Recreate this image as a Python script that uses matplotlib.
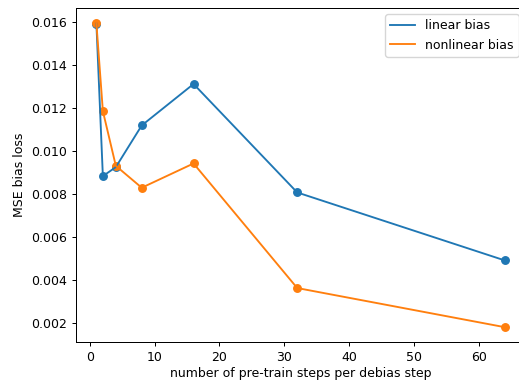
import matplotlib
matplotlib.use('Agg')
import matplotlib.pyplot as plt

## Data
steps = [1, 2, 4, 8, 16, 32, 64]  # pre-train steps per debias step
linear_bias = [0.01592, 0.00882, 0.00924, 0.01118, 0.01311, 0.00806, 0.00490]
nonlinear_bias = [0.01594, 0.01185, 0.00930, 0.00828, 0.00941, 0.00361, 0.00179]

## Original looks like a ~90 dpi render, so scale everything by 0.9
k = 0.9
plt.rcParams.update({
    'font.size': 10 * k,
    'lines.linewidth': 1.5 * k,
    'axes.linewidth': 0.8 * k,
    'xtick.major.size': 3.5 * k,
    'ytick.major.size': 3.5 * k,
    'xtick.major.width': 0.8 * k,
    'ytick.major.width': 0.8 * k,
    'xtick.major.pad': 3.5 * k,
    'ytick.major.pad': 3.5 * k,
})

fig = plt.figure(figsize=(5.19, 3.81), dpi=100)
ax = fig.add_axes([0.1464, 0.1015, 0.865, 0.8775])

## Lines (labelled) and dots (not in legend)
ax.plot(steps, linear_bias, label='linear bias')
ax.scatter(steps, linear_bias, s=36 * k * k)
ax.plot(steps, nonlinear_bias, label='nonlinear bias')
ax.scatter(steps, nonlinear_bias, s=36 * k * k)

ax.set_xlabel('number of pre-train steps per debias step', labelpad=2)
ax.set_ylabel('MSE bias loss')
ax.legend(loc='upper right')

fig.savefig('out.png', dpi=100)
